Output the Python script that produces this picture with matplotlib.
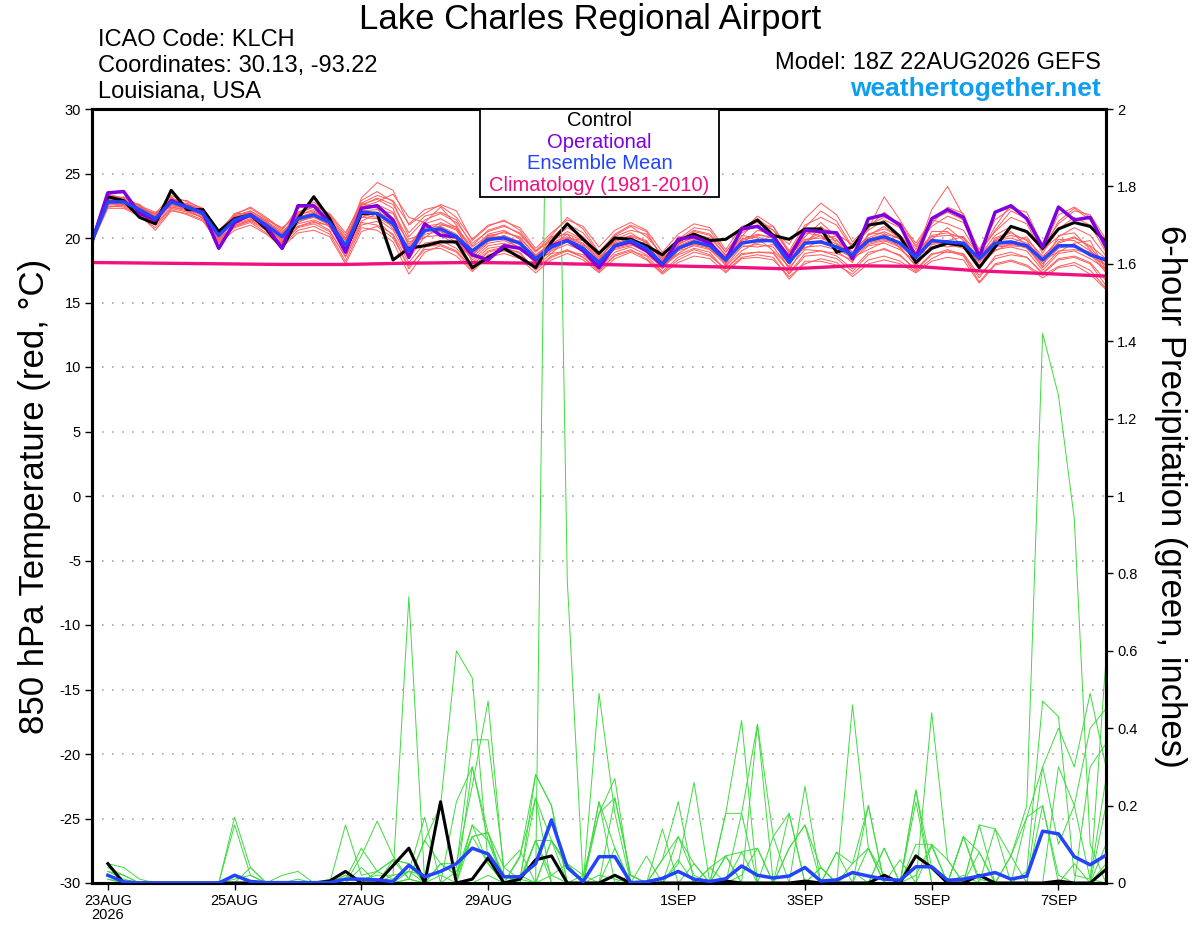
import numpy as np
import matplotlib
matplotlib.use('Agg')
import matplotlib.pyplot as plt
from matplotlib.patches import Rectangle

plt.rcParams['font.family'] = ['Liberation Sans', 'DejaVu Sans']
plt.rcParams['axes.unicode_minus'] = False

# 6-hourly steps starting 18Z 22AUG2026 (step 0) through 18Z 7SEP (step 64)
steps = np.arange(65)
tick_steps = [1, 9, 17, 25, 37, 45, 53, 61]
tick_labels = ['23AUG\n2026', '25AUG', '27AUG', '29AUG', '1SEP', '3SEP', '5SEP', '7SEP']

# 850 hPa temperature (C)
control_t = [19.8, 23.2, 22.9, 21.6, 21.1, 23.7, 22.2, 22.2, 20.5, 21.5, 21.8, 20.7, 19.2, 21.5, 23.2, 21.5,
             19.0, 21.9, 21.9, 18.3, 19.2, 19.4, 19.7, 19.7, 17.7, 18.5, 19.2, 18.5, 17.7, 19.7, 21.1, 19.9,
             18.8, 20.0, 19.9, 19.4, 18.7, 19.8, 20.3, 19.8, 19.9, 20.7, 21.4, 20.2, 19.9, 20.7, 20.7, 18.9,
             19.3, 21.0, 21.2, 20.1, 18.1, 19.2, 19.6, 19.4, 17.7, 19.3, 20.9, 20.5, 19.2, 20.7, 21.2, 20.9, 19.7]
oper_t = [19.7, 23.5, 23.6, 21.9, 21.4, 22.9, 22.4, 22.0, 19.2, 21.2, 21.8, 20.9, 19.2, 22.5, 22.5, 21.2,
          18.9, 22.3, 22.5, 21.4, 18.5, 21.1, 20.2, 20.1, 18.7, 18.3, 19.4, 19.2, 18.3, 19.4, 19.8, 19.0,
          17.7, 19.4, 19.7, 19.0, 17.9, 19.9, 20.1, 19.6, 18.3, 20.7, 20.9, 20.1, 18.5, 20.6, 20.5, 20.4,
          18.4, 21.5, 21.8, 21.0, 18.5, 21.5, 22.2, 21.6, 18.5, 22.0, 22.5, 21.5, 19.3, 22.4, 21.4, 21.6, 19.3]
mean_t = [19.8, 22.8, 22.8, 22.2, 21.5, 22.8, 22.4, 21.9, 20.2, 21.4, 21.8, 21.0, 20.1, 21.5, 21.8, 21.2,
          19.4, 22.0, 21.9, 21.1, 19.0, 20.6, 20.7, 20.1, 19.0, 19.9, 20.0, 19.6, 18.4, 19.3, 19.8, 19.2,
          18.1, 19.4, 19.8, 19.2, 18.0, 19.2, 19.7, 19.4, 18.3, 19.6, 19.8, 19.8, 18.1, 19.6, 19.7, 19.3,
          18.7, 19.8, 20.1, 19.6, 18.5, 19.8, 19.7, 19.6, 18.4, 19.6, 19.7, 19.4, 18.3, 19.4, 19.4, 18.7, 18.3]
clim_steps = [0, 4, 8, 12, 16, 20, 24, 28, 32, 36, 40, 44, 48, 52, 56, 60, 64]
clim_t = [18.1, 18.05, 18.0, 17.95, 17.95, 18.05, 18.1, 18.05, 17.95, 17.85, 17.75, 17.6, 17.85, 17.8,
          17.45, 17.25, 17.05]

members_t = [
    [19.7, 23.3, 23.1, 22.4, 21.8, 23.0, 22.9, 22.2, 20.4, 21.9, 22.3, 21.5, 20.6, 22.3, 22.6, 21.8, 20.2, 22.9, 23.6, 22.8, 20.1, 21.4, 21.9, 21.2, 19.6, 20.5, 20.9, 20.4, 19.0, 19.8, 20.8, 20.1, 18.7, 20.1, 20.6, 20.3, 18.6, 19.9, 20.8, 20.6, 18.9, 20.4, 21.0, 20.9, 18.8, 20.8, 22.1, 21.3, 19.3, 20.6, 21.4, 20.8, 19.1, 21.1, 22.4, 21.9, 18.9, 20.5, 21.6, 21.1, 18.8, 20.7, 21.6, 21.0, 18.9],
    [19.9, 22.4, 22.5, 21.9, 21.0, 22.3, 22.0, 21.6, 19.9, 20.9, 21.3, 20.6, 19.6, 20.8, 21.1, 20.5, 18.6, 21.2, 21.0, 20.3, 18.1, 19.6, 19.8, 19.2, 17.9, 19.0, 19.3, 18.8, 17.6, 18.6, 19.1, 18.5, 17.4, 18.7, 19.1, 18.4, 17.3, 18.3, 18.9, 18.6, 17.6, 18.8, 18.9, 18.8, 17.2, 18.6, 18.7, 18.4, 17.4, 18.7, 19.2, 18.6, 17.6, 18.8, 18.9, 18.8, 17.1, 18.4, 18.7, 18.5, 17.2, 18.3, 18.5, 18.0, 16.3],
    [19.8, 23.0, 22.9, 22.6, 21.4, 23.1, 22.6, 21.7, 20.3, 21.6, 22.0, 21.2, 20.4, 21.9, 22.4, 21.5, 19.8, 22.4, 22.8, 23.4, 21.6, 21.2, 22.4, 21.0, 18.9, 20.3, 20.6, 19.9, 18.1, 19.5, 20.3, 19.8, 18.3, 19.9, 20.4, 19.6, 17.9, 19.5, 20.1, 19.9, 18.0, 19.9, 20.2, 20.1, 18.3, 19.8, 20.4, 19.9, 18.2, 20.3, 20.7, 20.2, 18.9, 20.2, 20.4, 20.0, 18.3, 19.9, 20.4, 19.8, 18.0, 19.7, 20.1, 19.3, 17.8],
    [19.6, 22.7, 22.6, 21.9, 21.2, 22.6, 22.2, 21.5, 19.8, 21.1, 21.5, 20.8, 19.9, 21.1, 21.4, 20.9, 18.9, 21.6, 21.5, 20.6, 18.4, 20.1, 20.2, 19.5, 18.5, 19.6, 19.8, 19.3, 18.0, 19.0, 19.5, 19.0, 17.8, 19.2, 19.5, 18.9, 17.6, 19.0, 19.4, 19.1, 17.9, 19.3, 19.5, 19.3, 17.7, 19.1, 19.0, 18.8, 18.3, 19.4, 19.6, 19.1, 18.2, 19.3, 19.5, 19.2, 17.9, 19.1, 19.3, 19.0, 17.5, 18.8, 19.0, 18.4, 17.6],
    [19.8, 23.1, 22.8, 22.1, 21.6, 22.9, 22.5, 22.0, 20.1, 21.3, 21.7, 21.1, 20.2, 21.6, 22.0, 21.4, 19.6, 23.1, 24.3, 23.7, 21.0, 21.9, 22.6, 22.1, 19.8, 20.9, 21.4, 20.6, 19.0, 20.2, 21.6, 20.7, 18.9, 20.3, 21.0, 20.5, 18.4, 19.6, 20.5, 20.2, 18.6, 20.1, 21.5, 20.6, 18.9, 20.3, 20.8, 20.3, 19.5, 20.7, 23.2, 21.4, 19.3, 21.4, 21.1, 20.6, 18.6, 20.2, 20.9, 20.4, 19.1, 20.1, 20.8, 20.2, 18.6],
    [19.7, 22.6, 22.9, 22.3, 21.7, 22.5, 22.3, 21.8, 20.0, 21.5, 21.6, 20.9, 19.8, 21.2, 21.7, 21.1, 19.2, 22.1, 22.2, 21.9, 19.5, 20.8, 20.9, 20.3, 18.7, 19.7, 20.2, 19.6, 18.3, 19.4, 19.9, 19.4, 18.0, 19.6, 20.0, 19.2, 18.1, 19.3, 19.8, 19.5, 18.4, 19.7, 19.6, 19.9, 17.5, 19.5, 20.9, 19.6, 18.6, 19.6, 19.9, 19.4, 18.3, 19.7, 19.5, 19.4, 18.1, 19.5, 19.6, 19.2, 18.0, 19.2, 19.5, 18.6, 17.9],
    [19.9, 22.9, 23.2, 22.5, 21.3, 22.7, 22.7, 22.1, 20.5, 21.7, 22.1, 21.4, 20.8, 21.7, 22.8, 21.7, 20.0, 22.6, 23.0, 22.3, 19.3, 21.1, 21.5, 20.8, 19.3, 20.2, 20.4, 20.1, 18.6, 19.7, 20.5, 19.9, 18.5, 19.7, 20.2, 19.8, 18.2, 19.8, 20.3, 20.0, 18.7, 19.5, 20.6, 20.3, 18.5, 20.1, 21.2, 20.1, 18.9, 20.2, 20.9, 19.9, 18.7, 22.2, 24.0, 21.7, 18.8, 20.6, 22.1, 21.5, 19.0, 21.3, 22.3, 21.4, 19.3],
    [19.8, 22.5, 22.4, 21.8, 20.6, 22.1, 21.9, 21.4, 19.7, 20.8, 21.2, 20.4, 19.4, 20.6, 20.9, 20.3, 18.2, 20.8, 20.6, 19.7, 17.2, 18.9, 19.4, 18.9, 17.5, 18.7, 19.0, 18.6, 17.8, 18.8, 19.0, 18.7, 17.6, 18.9, 19.3, 18.7, 17.8, 18.7, 19.2, 18.9, 17.4, 18.5, 18.7, 18.5, 16.8, 18.2, 18.2, 17.9, 17.2, 18.3, 18.6, 18.2, 17.4, 18.4, 19.0, 18.6, 16.6, 18.0, 18.3, 17.9, 17.1, 17.8, 18.1, 17.5, 16.1],
    [19.7, 23.0, 22.7, 22.2, 21.9, 22.8, 22.6, 22.3, 20.2, 21.4, 21.9, 21.3, 20.5, 21.4, 21.6, 21.2, 19.5, 22.3, 22.6, 22.0, 19.9, 20.4, 21.2, 20.7, 19.1, 20.0, 20.5, 20.0, 18.7, 19.6, 20.1, 19.6, 18.2, 19.5, 19.8, 19.4, 18.5, 19.4, 19.9, 19.7, 18.2, 19.8, 20.1, 19.6, 18.0, 19.7, 20.2, 19.5, 18.8, 19.9, 20.3, 20.0, 18.9, 19.9, 20.8, 19.8, 18.5, 19.8, 20.0, 19.6, 18.5, 19.9, 19.8, 19.0, 18.1],
    [19.9, 22.8, 23.0, 22.0, 21.4, 22.9, 22.6, 21.9, 20.3, 21.2, 21.8, 21.0, 20.0, 21.8, 22.1, 21.3, 19.3, 21.8, 21.6, 20.9, 18.7, 20.3, 20.5, 19.9, 18.3, 19.4, 19.6, 19.2, 18.2, 19.1, 19.7, 19.1, 18.1, 19.3, 19.7, 19.1, 17.7, 19.1, 19.6, 19.3, 18.1, 19.4, 19.3, 19.5, 18.2, 19.3, 19.4, 19.1, 18.5, 19.5, 19.8, 19.3, 17.8, 19.5, 19.3, 19.5, 18.2, 19.3, 19.4, 19.3, 17.7, 19.0, 19.1, 18.8, 17.3],
    [19.8, 22.6, 22.7, 22.2, 21.5, 22.6, 22.3, 21.7, 20.1, 21.5, 21.7, 21.1, 20.1, 21.3, 21.6, 21.0, 19.1, 21.6, 22.0, 21.4, 18.9, 20.6, 20.8, 20.2, 18.6, 20.1, 20.0, 19.5, 18.4, 19.3, 19.8, 19.3, 18.0, 19.3, 19.6, 19.1, 17.9, 19.2, 19.5, 19.2, 18.1, 19.6, 19.8, 19.7, 18.2, 19.6, 19.6, 19.4, 18.7, 19.7, 20.0, 19.6, 18.6, 19.6, 19.6, 19.4, 18.3, 19.4, 19.5, 19.3, 18.2, 19.4, 19.3, 18.9, 17.9],
    [19.7, 23.2, 22.9, 22.6, 21.6, 22.8, 22.4, 21.9, 20.0, 21.3, 21.6, 20.9, 19.7, 21.5, 21.9, 21.2, 19.8, 22.1, 21.8, 21.0, 18.5, 20.9, 21.1, 20.6, 18.8, 19.8, 20.2, 19.7, 18.6, 19.5, 20.0, 19.5, 18.4, 19.8, 20.1, 19.7, 18.3, 19.6, 20.0, 19.7, 18.5, 19.9, 20.3, 20.0, 18.6, 19.9, 20.0, 19.8, 18.9, 20.0, 20.5, 19.9, 18.8, 20.1, 20.2, 20.1, 18.7, 19.8, 20.2, 19.9, 18.6, 19.6, 20.0, 19.4, 18.4],
    [19.8, 22.4, 22.6, 22.0, 21.1, 22.4, 22.1, 21.6, 19.8, 21.0, 21.4, 20.7, 19.5, 20.9, 21.3, 20.6, 18.5, 21.0, 21.3, 20.2, 17.6, 19.3, 19.5, 19.0, 17.7, 18.9, 19.2, 18.9, 17.5, 18.5, 19.0, 18.5, 17.5, 18.6, 19.0, 18.6, 17.4, 18.5, 19.1, 18.7, 17.6, 18.7, 18.9, 18.9, 17.3, 18.8, 19.0, 18.6, 17.6, 18.9, 19.1, 18.7, 17.5, 18.7, 19.1, 18.7, 16.9, 18.6, 18.9, 18.5, 17.3, 18.4, 18.6, 18.1, 16.7],
    [19.8, 23.1, 23.0, 22.3, 21.7, 23.0, 22.6, 22.0, 20.4, 21.7, 22.1, 21.3, 20.3, 21.8, 22.2, 21.5, 19.9, 22.5, 23.1, 22.6, 20.4, 21.7, 22.0, 21.4, 19.4, 20.6, 21.0, 20.3, 18.9, 20.0, 21.1, 20.4, 18.8, 20.2, 20.9, 20.1, 18.7, 19.8, 20.6, 20.3, 18.9, 20.5, 21.7, 20.9, 19.0, 21.0, 21.6, 21.0, 19.2, 20.8, 22.0, 21.0, 19.4, 20.9, 21.7, 21.2, 18.7, 20.9, 22.6, 21.6, 19.2, 21.8, 22.4, 21.6, 19.5],
    [19.8, 22.9, 22.8, 22.4, 21.9, 23.3, 22.8, 22.3, 20.6, 21.8, 22.4, 21.6, 20.7, 22.0, 22.5, 21.9, 20.4, 22.7, 23.3, 22.9, 21.1, 22.2, 22.5, 21.6, 19.9, 21.0, 21.3, 20.8, 19.2, 20.4, 21.4, 20.9, 19.3, 20.6, 21.2, 20.6, 18.9, 20.3, 21.1, 20.8, 19.1, 20.9, 21.2, 20.6, 19.5, 21.5, 22.7, 21.8, 19.7, 21.0, 21.6, 21.2, 19.6, 21.4, 22.0, 21.4, 19.1, 21.4, 22.3, 22.0, 19.4, 21.1, 22.1, 21.8, 19.9],
    [19.6, 22.3, 22.3, 21.7, 20.8, 22.2, 21.8, 21.3, 19.6, 20.6, 21.0, 20.3, 19.3, 20.4, 20.6, 20.1, 18.0, 20.5, 20.9, 20.0, 17.8, 19.1, 19.2, 18.6, 17.4, 18.5, 18.8, 18.4, 17.3, 18.3, 18.8, 18.3, 17.3, 18.4, 18.9, 18.3, 17.2, 18.1, 18.6, 18.4, 17.3, 18.4, 18.5, 18.3, 17.0, 18.0, 18.4, 18.1, 17.0, 18.0, 18.3, 18.0, 17.3, 18.2, 18.5, 18.3, 16.5, 17.9, 18.2, 17.8, 16.9, 17.7, 17.9, 17.2, 16.0],
    [19.9, 22.7, 22.5, 22.5, 22.0, 22.4, 22.2, 22.1, 20.0, 20.9, 21.4, 21.2, 20.3, 20.9, 21.2, 21.0, 19.0, 21.3, 21.9, 21.5, 19.7, 20.0, 21.0, 20.9, 18.1, 19.2, 19.4, 19.8, 18.5, 18.8, 20.0, 19.8, 18.6, 19.1, 19.4, 19.7, 17.9, 18.8, 19.5, 19.8, 17.8, 19.0, 19.7, 20.2, 18.4, 19.2, 19.8, 20.2, 18.5, 19.1, 19.7, 20.2, 18.6, 19.2, 19.8, 20.1, 17.8, 19.0, 19.6, 20.1, 18.3, 18.9, 19.6, 19.8, 17.5],
    [19.7, 23.4, 23.1, 22.0, 21.2, 23.2, 22.3, 21.5, 20.2, 21.9, 21.9, 20.6, 19.6, 22.0, 22.4, 20.8, 19.4, 22.7, 22.3, 20.7, 19.1, 21.0, 20.5, 19.6, 18.6, 20.2, 20.1, 19.1, 18.2, 20.1, 20.3, 19.0, 18.3, 20.0, 20.1, 19.0, 18.0, 20.1, 20.0, 19.1, 18.2, 20.2, 20.0, 19.0, 17.8, 20.4, 20.2, 19.0, 18.1, 20.3, 20.4, 19.2, 17.9, 20.5, 20.5, 19.3, 17.7, 20.0, 20.5, 19.4, 17.8, 20.2, 20.4, 19.1, 17.4],
]

# 6-hour precipitation (inches), steps 1..64
precip_steps = steps[1:]
control_p = [0.05, 0, 0, 0, 0, 0, 0, 0, 0, 0, 0, 0, 0, 0, 0.005, 0.03,
             0, 0, 0.045, 0.09, 0, 0.21, 0, 0.01, 0.065, 0, 0.01, 0.06, 0.07, 0, 0, 0,
             0.02, 0, 0, 0, 0, 0, 0, 0.005, 0, 0, 0, 0, 0.005, 0, 0, 0,
             0, 0.02, 0, 0.07, 0.04, 0, 0, 0.02, 0, 0, 0, 0, 0.005, 0, 0, 0.035]
mean_p = [0.02, 0.003, 0, 0, 0, 0, 0, 0, 0.02, 0.004, 0.001, 0.001, 0.001, 0.001, 0.001, 0.01,
          0.01, 0.008, 0.004, 0.046, 0.016, 0.03, 0.05, 0.09, 0.075, 0.016, 0.016, 0.05, 0.163, 0.04, 0.004, 0.068,
          0.068, 0.001, 0.003, 0.012, 0.03, 0.01, 0.004, 0.011, 0.044, 0.02, 0.013, 0.018, 0.04, 0.005, 0.008, 0.027,
          0.018, 0.01, 0.007, 0.042, 0.042, 0.007, 0.01, 0.018, 0.027, 0.01, 0.018, 0.134, 0.127, 0.068, 0.047, 0.072]

members_p = [
    [0.05, 0.04, 0.01, 0, 0, 0, 0, 0, 0.17, 0.04, 0, 0, 0.01, 0, 0, 0.02,
     0.01, 0.02, 0.02, 0.74, 0, 0.05, 0.02, 0.12, 0.13, 0.04, 0.01, 0.11, 0.02, 0, 0, 0.21,
     0.09, 0, 0, 0.06, 0.21, 0, 0, 0.07, 0.08, 0, 0, 0.09, 0.15, 0, 0.08, 0.05,
     0.09, 0.02, 0, 0.24, 0.04, 0, 0.12, 0.01, 0, 0.07, 0.17, 0.3, 0.1, 0.2, 0.01, 0.27],
    [0.03, 0.01, 0, 0, 0, 0, 0, 0, 0.15, 0.02, 0, 0, 0, 0, 0.01, 0.01,
     0.09, 0.03, 0.01, 0.03, 0.17, 0, 0.21, 0.3, 0.11, 0.02, 0.01, 0, 3.2, 0.78, 0, 0.02,
     0.01, 0, 0.07, 0, 0.05, 0.26, 0, 0, 0.02, 0.09, 0, 0, 0, 0.04, 0, 0.03,
     0, 0.09, 0, 0.1, 0.1, 0, 0.02, 0, 0.14, 0, 0, 0.2, 0.02, 0, 0.3, 0.36],
    [0.02, 0, 0, 0, 0, 0, 0, 0, 0.02, 0, 0, 0.02, 0.03, 0, 0, 0,
     0.07, 0.16, 0.07, 0.01, 0.11, 0.2, 0.6, 0.53, 0.05, 0, 0.07, 0.22, 0.11, 0.05, 0, 0.18,
     0.27, 0, 0, 0.14, 0, 0, 0, 0.18, 0.42, 0, 0, 0, 0.25, 0, 0, 0,
     0.2, 0, 0, 0.02, 0.1, 0.06, 0, 0.15, 0, 0, 0.03, 0.47, 0.43, 0.02, 0.01, 0],
    [0.01, 0, 0, 0, 0, 0, 0, 0, 0, 0.04, 0, 0, 0, 0, 0, 0.15,
     0.02, 0.03, 0.06, 0.05, 0, 0.05, 0.05, 0.25, 0.47, 0.02, 0, 0.28, 0.2, 0, 0.02, 0,
     0.22, 0.02, 0, 0, 0.12, 0.05, 0, 0, 0.18, 0.41, 0, 0, 0, 0, 0, 0.46,
     0.09, 0, 0, 0.21, 0, 0, 0, 0.08, 0, 0.07, 0.2, 1.42, 1.26, 0.94, 0.1, 0],
    [0, 0, 0, 0, 0, 0, 0, 0, 0.02, 0, 0, 0, 0, 0, 0, 0,
     0, 0, 0.02, 0.03, 0.02, 0.03, 0.04, 0.37, 0.37, 0.04, 0.085, 0, 0.11, 0, 0, 0.49,
     0.18, 0, 0, 0, 0.06, 0, 0.04, 0, 0, 0, 0.12, 0.18, 0, 0, 0.08, 0,
     0, 0, 0.06, 0, 0.095, 0, 0, 0, 0, 0, 0, 0, 0.3, 0.2, 0.4, 0.45],
    [0.03, 0.02, 0, 0, 0, 0, 0, 0, 0.01, 0.02, 0, 0, 0, 0, 0, 0,
     0.04, 0, 0.06, 0.05, 0, 0, 0, 0.15, 0.11, 0, 0.065, 0.28, 0.2, 0, 0, 0,
     0.09, 0, 0, 0, 0, 0.05, 0, 0.07, 0, 0, 0, 0.09, 0.15, 0.04, 0, 0,
     0.09, 0, 0, 0, 0.44, 0.06, 0, 0, 0, 0, 0.17, 0.2, 0, 0, 0, 0.58],
    [0.02, 0, 0, 0, 0, 0, 0, 0, 0.02, 0, 0, 0, 0, 0, 0, 0.02,
     0, 0, 0, 0.01, 0, 0, 0.03, 0.12, 0.13, 0, 0, 0.11, 0.11, 0.04, 0, 0,
     0, 0.02, 0, 0, 0, 0, 0, 0, 0, 0, 0, 0, 0, 0.04, 0, 0,
     0, 0.09, 0, 0, 0, 0, 0.12, 0, 0, 0, 0, 0.3, 0.4, 0.3, 0.49, 0.3],
    [0.04, 0.02, 0, 0, 0, 0, 0, 0, 0, 0, 0, 0, 0, 0, 0, 0,
     0, 0, 0, 0.01, 0.11, 0.05, 0.02, 0.15, 0.05, 0, 0.02, 0, 0.02, 0.05, 0.02, 0.18,
     0.22, 0.02, 0, 0, 0, 0, 0, 0, 0.08, 0.09, 0, 0, 0, 0, 0, 0.05,
     0.2, 0, 0, 0, 0, 0, 0, 0.15, 0.14, 0.07, 0, 0, 0, 0, 0, 0.1],
    [0.01, 0, 0, 0, 0, 0, 0, 0, 0, 0, 0, 0, 0, 0, 0, 0,
     0, 0, 0, 0, 0, 0, 0, 0.3, 0.13, 0, 0.01, 0.22, 0, 0, 0, 0.21,
     0, 0, 0, 0.06, 0.12, 0.02, 0, 0, 0, 0.41, 0.12, 0, 0, 0, 0, 0,
     0, 0, 0, 0.24, 0, 0, 0, 0, 0, 0, 0, 0, 0, 0.05, 0, 0.05],
    [0, 0, 0, 0, 0, 0, 0, 0, 0, 0, 0, 0, 0, 0, 0, 0,
     0, 0.03, 0.06, 0.01, 0, 0, 0, 0.12, 0.05, 0, 0, 0.11, 0, 0, 0, 0,
     0, 0, 0, 0, 0, 0, 0, 0.18, 0.18, 0, 0, 0.18, 0, 0, 0, 0,
     0, 0, 0, 0, 0, 0, 0, 0, 0, 0, 0, 0, 0, 0, 0, 0.2],
    [0, 0, 0, 0, 0, 0, 0, 0, 0, 0, 0, 0, 0, 0, 0, 0,
     0, 0, 0, 0.03, 0, 0.02, 0, 0, 0.02, 0, 0, 0, 0.11, 0.05, 0, 0,
     0, 0, 0, 0, 0, 0, 0.04, 0.07, 0, 0, 0, 0, 0, 0, 0, 0,
     0, 0, 0, 0, 0, 0, 0.12, 0.08, 0, 0, 0, 0, 0, 0, 0, 0],
]

fig = plt.figure(figsize=(12, 9.27), dpi=100)
ax = fig.add_axes([92 / 1200, 44 / 927, 1014 / 1200, 774 / 927])
ax2 = ax.twinx()

for m in members_t:
    ax.plot(steps, m, color='#ff5a5a', lw=0.7, zorder=2)
ax.plot(clim_steps, clim_t, color='#f0107f', lw=2.4, zorder=3)
ax.plot(steps, control_t, color='black', lw=2.2, zorder=4)
ax.plot(steps, oper_t, color='#8000dd', lw=2.5, zorder=5)
ax.plot(steps, mean_t, color='#2244ff', lw=2.5, zorder=6)

for m in members_p:
    ax2.plot(precip_steps, m, color='#3cdc3c', lw=0.7, zorder=2)
ax2.plot(precip_steps, control_p, color='black', lw=2.2, zorder=3)
ax2.plot(precip_steps, mean_p, color='#2244ff', lw=2.5, zorder=4)

ax.set_xlim(0, 64)
ax.set_ylim(-30, 30)
ax2.set_ylim(0, 2)
ax.set_yticks(np.arange(-30, 31, 5))
ax2.set_yticks(np.arange(0, 2.01, 0.2))
ax2.set_yticklabels(['%g' % v for v in np.arange(0, 2.01, 0.2).round(1)])
ax.set_xticks(tick_steps)
ax.set_xticklabels(tick_labels, fontsize=11.5, linespacing=1.0)

ax.grid(axis='y', color='#aaaaaa', linestyle=(0, (1, 5)), lw=1.2)
ax.set_axisbelow(True)

for a in (ax, ax2):
    for s in a.spines.values():
        s.set_linewidth(2.2)
    a.tick_params(direction='out', length=5, width=1, labelsize=10.5, pad=3)

ax.set_ylabel('850 hPa Temperature (red, °C)', fontsize=25, labelpad=6)
ax2.set_ylabel('6-hour Precipitation (green, inches)', fontsize=25, rotation=-90, labelpad=36)

# legend box in the top middle
ax2.add_patch(Rectangle((0.3826, 0.8863), 0.2357, 0.1137, transform=ax2.transAxes,
                        facecolor='white', edgecolor='black', lw=1.3, zorder=10))
legend_items = [('Control', 'black'), ('Operational', '#8000dd'),
                ('Ensemble Mean', '#2244ff'), ('Climatology (1981-2010)', '#f0107f')]
for k, (txt, col) in enumerate(legend_items):
    ax2.text(0.5006, 0.9845 - k * 0.0276, txt, color=col, fontsize=14.5, ha='center', va='center',
             transform=ax2.transAxes, zorder=11)

fig.text(590 / 1200, 1 - 19 / 927, 'Lake Charles Regional Airport', fontsize=25, ha='center', va='center')
fig.text(98 / 1200, 1 - 40 / 927, 'ICAO Code: KLCH', fontsize=17, ha='left', va='center')
fig.text(98 / 1200, 1 - 66 / 927, 'Coordinates: 30.13, -93.22', fontsize=17, ha='left', va='center')
fig.text(98 / 1200, 1 - 92 / 927, 'Louisiana, USA', fontsize=17, ha='left', va='center')
fig.text(1101 / 1200, 1 - 63 / 927, 'Model: 18Z 22AUG2026 GEFS', fontsize=17, ha='right', va='center')
fig.text(1101 / 1200, 1 - 89 / 927, 'weathertogether.net', fontsize=19, ha='right', va='center',
         color='#109ef0', fontweight='bold')

fig.savefig('out.png', dpi=100)
